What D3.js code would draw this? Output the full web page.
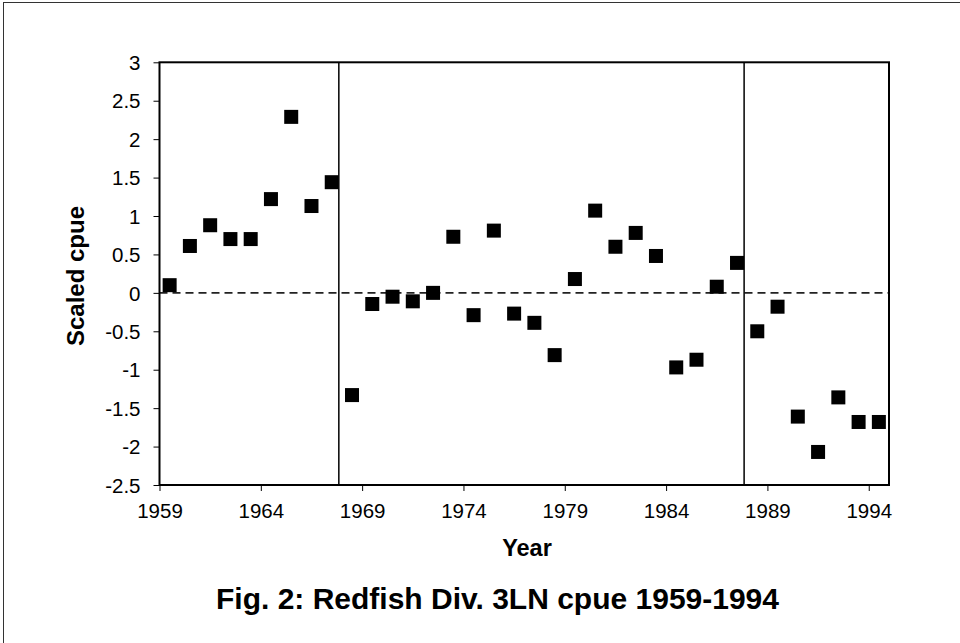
<!DOCTYPE html>
<html><head><meta charset="utf-8">
<script src="https://cdn.jsdelivr.net/npm/d3@7"></script>
<style>body{margin:0;background:#fff;}svg{display:block;font-family:Arial,"Liberation Sans",sans-serif;}</style>
</head><body>
<script>
const years = d3.range(1959, 1995);
const cpue = [0.10, 0.61, 0.88, 0.70, 0.70, 1.22, 2.29, 1.13, 1.44,
  -1.33, -0.145, -0.05, -0.11, 0.00, 0.73, -0.29, 0.81, -0.27, -0.39, -0.81,
  0.18, 1.07, 0.60, 0.78, 0.48, -0.97, -0.87, 0.08, 0.39,
  -0.50, -0.18, -1.61, -2.07, -1.36, -1.68, -1.68];
const xTicks = [1959, 1964, 1969, 1974, 1979, 1984, 1989, 1994];
const yTicks = [-2.5, -2, -1.5, -1, -0.5, 0, 0.5, 1, 1.5, 2, 2.5, 3];
const breaks = [1967.85, 1987.85];

const W = 960, H = 643;
const m = {l: 159.5, t: 62.3, r: 889, b: 485};
const FONT = "Arial, 'Liberation Sans', sans-serif";
const svg = d3.select("body").append("svg").attr("width", W).attr("height", H);
svg.append("rect").attr("x", 3.5).attr("y", 2.5).attr("width", W + 10).attr("height", H + 10)
  .attr("fill", "none").attr("stroke", "#333").attr("stroke-width", 1);

const x = d3.scaleLinear().domain([1959, 1995]).range([m.l, m.r]);
const y = d3.scaleLinear().domain([-2.5, 3]).range([m.b, m.t]);

const xAxis = svg.append("g").attr("transform", `translate(0,${m.b})`)
  .call(d3.axisBottom(x).tickValues(xTicks).tickFormat(d3.format("d")).tickSize(6).tickSizeOuter(0));
const yAxis = svg.append("g").attr("transform", `translate(${m.l},0)`)
  .call(d3.axisLeft(y).tickValues(yTicks).tickFormat(d => String(d)).tickSize(6).tickSizeOuter(0));
[xAxis, yAxis].forEach(g => {
  g.attr("font-size", null).attr("font-family", null);
  g.select(".domain").remove();
  g.selectAll("line").attr("stroke", "#000").attr("stroke-width", 1);
  g.selectAll("text").style("font-size", "20.5px").style("font-family", FONT).attr("fill", "#000");
});
xAxis.selectAll("text").attr("y", 33).attr("dy", null);
yAxis.selectAll("text").attr("x", -19).attr("dy", "0.35em");

// zero dashed line
svg.append("line").attr("x1", m.l).attr("x2", m.r).attr("y1", y(0)).attr("y2", y(0))
  .attr("stroke", "#222").attr("stroke-width", 1.6).attr("stroke-dasharray", "8,5");

// break lines
svg.selectAll(".brk").data(breaks).enter().append("line")
  .attr("x1", d => x(d)).attr("x2", d => x(d)).attr("y1", m.t).attr("y2", m.b)
  .attr("stroke", "#000").attr("stroke-width", 1.5);

// frame
svg.append("rect").attr("x", m.l).attr("y", m.t).attr("width", m.r - m.l).attr("height", m.b - m.t)
  .attr("fill", "none").attr("stroke", "#000").attr("stroke-width", 2);

const s = 14;
svg.selectAll(".pt").data(years).enter().append("rect")
  .attr("x", (d, i) => x(d + 0.5) - s / 2).attr("y", (d, i) => y(cpue[i]) - s / 2)
  .attr("width", s).attr("height", s).attr("fill", "#000");

svg.append("text").attr("x", 527).attr("y", 556).attr("text-anchor", "middle")
  .style("font-size", "23.5px").attr("font-weight", "bold").text("Year");
svg.append("text").attr("transform", `translate(84,276) rotate(-90)`)
  .attr("text-anchor", "middle").style("font-size", "24px").attr("font-weight", "bold").text("Scaled cpue");
svg.append("text").attr("x", 497.5).attr("y", 609).attr("text-anchor", "middle")
  .style("font-size", "30px").attr("font-weight", "bold").text("Fig. 2: Redfish Div. 3LN cpue 1959-1994");
</script>
</body></html>
